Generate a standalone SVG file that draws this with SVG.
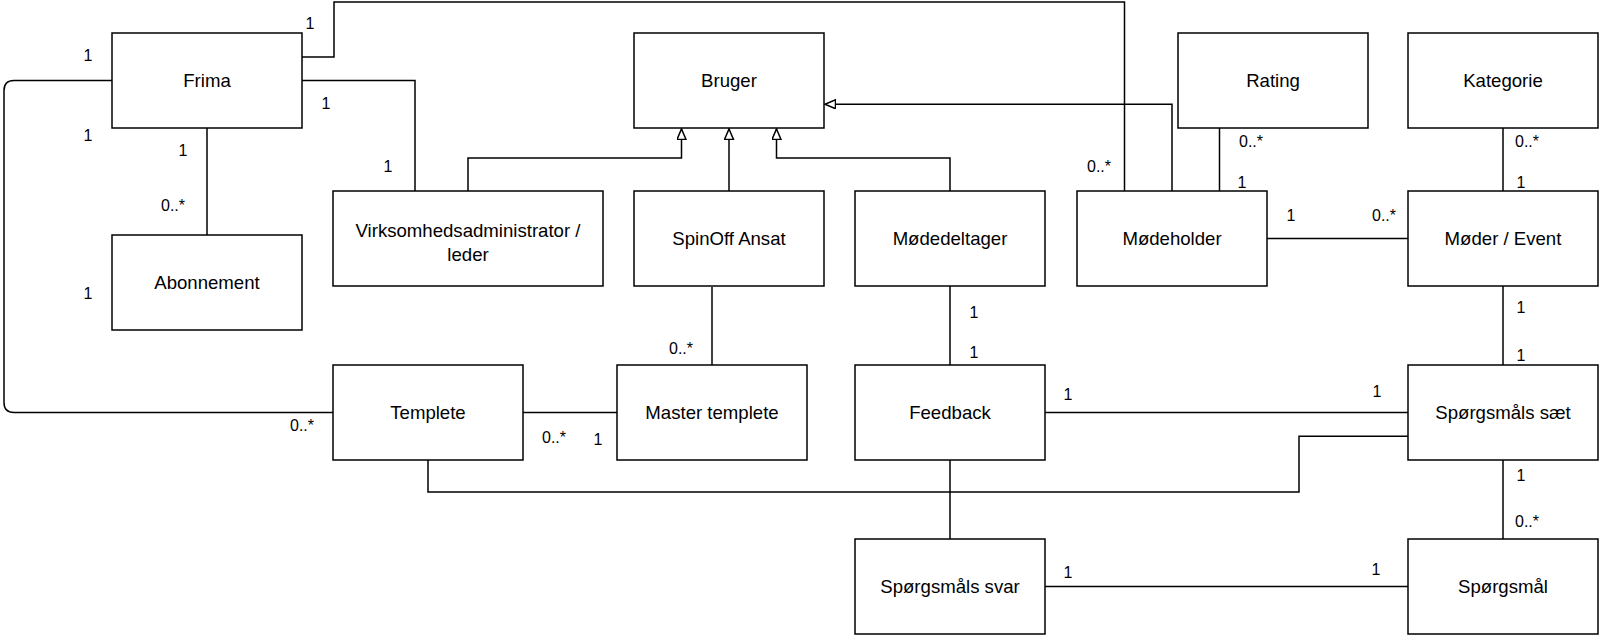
<svg xmlns="http://www.w3.org/2000/svg" width="1600" height="635" viewBox="0 0 1600 635">
<style>
.box{fill:#fff;stroke:#000;stroke-width:1.5}
.t{font-family:"Liberation Sans",Arial,sans-serif;font-size:18.6px;fill:#000;text-anchor:middle}
.e{fill:none;stroke:#000;stroke-width:1.5}
.m{font-family:"Liberation Sans",Arial,sans-serif;font-size:16px;fill:#000;text-anchor:middle}
</style>
<defs>
<marker id="gen" markerUnits="userSpaceOnUse" markerWidth="14" markerHeight="14" refX="11" refY="5" orient="auto">
<path d="M0.5,0.5 L11,5 L0.5,9.5 Z" fill="#fff" stroke="#000" stroke-width="1.5"/>
</marker>
</defs>
<rect width="1600" height="635" fill="#fff"/>
<g id="connectors">
<path class="e" d="M302,57 H334 V2 H1124.5 V191"/>
<path class="e" d="M302,80.5 H415 V191"/>
<path class="e" d="M207,128 V235"/>
<path class="e" d="M112,80.5 H14 Q4,80.5 4,90.5 V402.5 Q4,412.5 14,412.5 H333"/>
<path class="e" d="M468,191 V158 H681.5 V129" marker-end="url(#gen)"/>
<path class="e" d="M729,191 V129" marker-end="url(#gen)"/>
<path class="e" d="M950,191 V158 H776.5 V129" marker-end="url(#gen)"/>
<path class="e" d="M1172,191 V104.25 H825" marker-end="url(#gen)"/>
<path class="e" d="M1219.5,128 V191"/>
<path class="e" d="M1503,128 V191"/>
<path class="e" d="M1267,238.5 H1408"/>
<path class="e" d="M712,287 V365"/>
<path class="e" d="M523,412.5 H617"/>
<path class="e" d="M950,286 V365"/>
<path class="e" d="M1045,412.5 H1408"/>
<path class="e" d="M428,460 V492 H1299 V436.25 H1408"/>
<path class="e" d="M950,460 V539"/>
<path class="e" d="M1503,286 V365"/>
<path class="e" d="M1503,460 V539"/>
<path class="e" d="M1045,586.5 H1408"/>
<text class="m" x="88" y="61">1</text>
<text class="m" x="310" y="29">1</text>
<text class="m" x="326" y="109">1</text>
<text class="m" x="88" y="141">1</text>
<text class="m" x="183" y="156">1</text>
<text class="m" x="388" y="172">1</text>
<text class="m" x="173" y="211">0..*</text>
<text class="m" x="88" y="299">1</text>
<text class="m" x="1099" y="172">0..*</text>
<text class="m" x="1251" y="147">0..*</text>
<text class="m" x="1242" y="188">1</text>
<text class="m" x="1527" y="147">0..*</text>
<text class="m" x="1521" y="188">1</text>
<text class="m" x="1291" y="221">1</text>
<text class="m" x="1384" y="221">0..*</text>
<text class="m" x="302" y="431">0..*</text>
<text class="m" x="681" y="354">0..*</text>
<text class="m" x="554" y="443">0..*</text>
<text class="m" x="598" y="445">1</text>
<text class="m" x="974" y="318">1</text>
<text class="m" x="974" y="358">1</text>
<text class="m" x="1068" y="400">1</text>
<text class="m" x="1377" y="397">1</text>
<text class="m" x="1521" y="313">1</text>
<text class="m" x="1521" y="361">1</text>
<text class="m" x="1521" y="481">1</text>
<text class="m" x="1527" y="527">0..*</text>
<text class="m" x="1068" y="578">1</text>
<text class="m" x="1376" y="575">1</text>
</g>
<g id="frima"><rect class="box" x="112" y="33" width="190" height="95"/><text class="t" x="207" y="87">Frima</text></g>
<g id="abonnement"><rect class="box" x="112" y="235" width="190" height="95"/><text class="t" x="207" y="289">Abonnement</text></g>
<g id="bruger"><rect class="box" x="634" y="33" width="190" height="95"/><text class="t" x="729" y="87">Bruger</text></g>
<g id="virksomhedsadministrator"><rect class="box" x="333" y="191" width="270" height="95"/><text class="t" x="468" y="237">Virksomhedsadministrator /</text><text class="t" x="468" y="261">leder</text></g>
<g id="spinoff"><rect class="box" x="634" y="191" width="190" height="95"/><text class="t" x="729" y="245">SpinOff Ansat</text></g>
<g id="moedeltager"><rect class="box" x="855" y="191" width="190" height="95"/><text class="t" x="950" y="245">Mødedeltager</text></g>
<g id="moedeholder"><rect class="box" x="1077" y="191" width="190" height="95"/><text class="t" x="1172" y="245">Mødeholder</text></g>
<g id="rating"><rect class="box" x="1178" y="33" width="190" height="95"/><text class="t" x="1273" y="87">Rating</text></g>
<g id="kategorie"><rect class="box" x="1408" y="33" width="190" height="95"/><text class="t" x="1503" y="87">Kategorie</text></g>
<g id="moeder"><rect class="box" x="1408" y="191" width="190" height="95"/><text class="t" x="1503" y="245">Møder / Event</text></g>
<g id="templete"><rect class="box" x="333" y="365" width="190" height="95"/><text class="t" x="428" y="419">Templete</text></g>
<g id="master"><rect class="box" x="617" y="365" width="190" height="95"/><text class="t" x="712" y="419">Master templete</text></g>
<g id="feedback"><rect class="box" x="855" y="365" width="190" height="95"/><text class="t" x="950" y="419">Feedback</text></g>
<g id="saet"><rect class="box" x="1408" y="365" width="190" height="95"/><text class="t" x="1503" y="419">Spørgsmåls sæt</text></g>
<g id="svar"><rect class="box" x="855" y="539" width="190" height="95"/><text class="t" x="950" y="593">Spørgsmåls svar</text></g>
<g id="spoergsmaal"><rect class="box" x="1408" y="539" width="190" height="95"/><text class="t" x="1503" y="593">Spørgsmål</text></g>
</svg>
